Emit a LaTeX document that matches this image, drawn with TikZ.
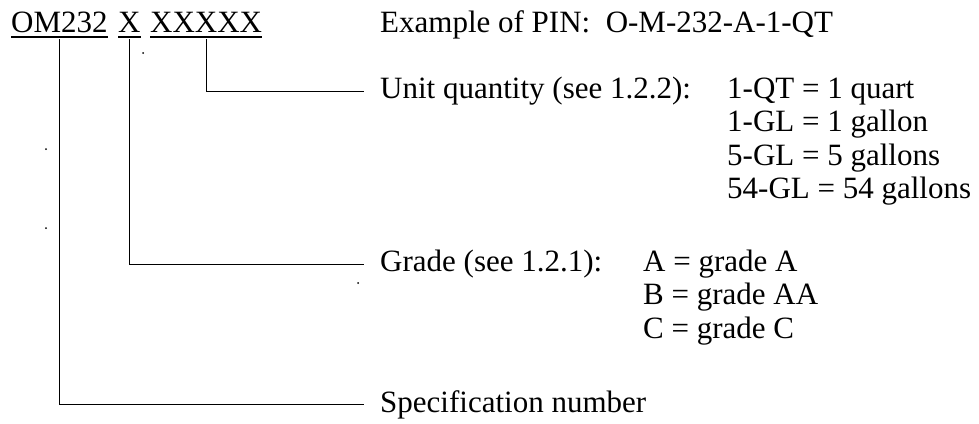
\documentclass[tikz,border=0pt]{standalone}
\usepackage{fontspec}
\setmainfont{Liberation Serif}
\begin{document}
\begin{tikzpicture}[x=1pt,y=-1pt,
  txt/.style={anchor=base west,inner sep=0pt,font=\fontsize{31}{34}\selectfont},
  conn/.style={line width=1.3pt,line cap=rect},
  uline/.style={line width=1.3pt},
  speck/.style={fill=black,inner sep=0pt,minimum size=2pt,circle}]
\useasboundingbox (0,0) rectangle (979,423);
% code parts
\node[txt] (om) at (11,32) {OM232};
\node[txt] (gx) at (118,32) {X};
\node[txt] (uq) at (150,32) {XXXXX};
\draw[uline] ([yshift=-5pt]om.base west) -- ([yshift=-5pt]om.base east);
\draw[uline] ([yshift=-5pt]gx.base west) -- ([yshift=-5pt]gx.base east);
\draw[uline] ([yshift=-5pt]uq.base west) -- ([yshift=-5pt]uq.base east);
% labels
\node[txt] (ex) at (380,32) {Example of PIN:~~O-M-232-A-1-QT};
\node[txt] (unit) at (380,98) {Unit quantity (see 1.2.2):};
\node[txt] (u1) at (727,98) {1-QT = 1 quart};
\node[txt] (u2) at (727,131.5) {1-GL = 1 gallon};
\node[txt] (u3) at (727,165) {5-GL = 5 gallons};
\node[txt] (u4) at (727,198.5) {54-GL = 54 gallons};
\node[txt] (grade) at (380,271) {Grade (see 1.2.1):};
\node[txt] (g1) at (643,271) {A = grade A};
\node[txt] (g2) at (643,304.5) {B = grade AA};
\node[txt] (g3) at (643,338) {C = grade C};
\node[txt] (spec) at (380,412) {Specification number};
% connectors
\draw[conn] ([yshift=-8pt]uq.base) |- ([xshift=-17pt,yshift=-1pt]unit.west);
\draw[conn] ([yshift=-8pt]gx.base) |- ([xshift=-17pt,yshift=-1pt]grade.west);
\draw[conn] ([yshift=-8pt]om.base) |- ([xshift=-17pt]spec.west);
% stray specks
\node[speck] (s1) at (143,53) {};
\node[speck] (s2) at (46,149) {};
\node[speck] (s3) at (46,228) {};
\node[speck] (s4) at (358,283) {};
\end{tikzpicture}
\end{document}
